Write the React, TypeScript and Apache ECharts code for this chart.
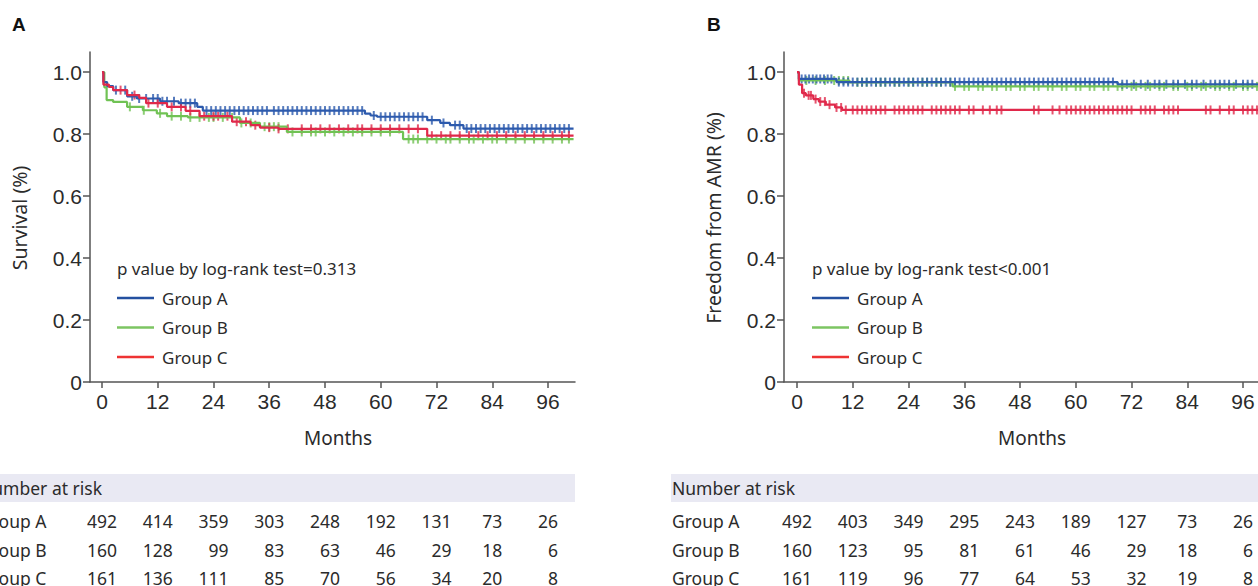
import React, { useEffect, useRef } from "react";
import * as echarts from "echarts";

// ---------- data ----------
const months = [0, 12, 24, 36, 48, 60, 72, 84, 96];
const yTicks = [0, 0.2, 0.4, 0.6, 0.8, 1.0];
const groupNames = ["Group A", "Group B", "Group C"];
const followUpEnd = 101.5;

// Panel A – overall survival (step times in months, survival after the step)
const aBlueT = [0, 0.3, 1.1, 2.4, 5.4, 7.5, 12.5, 16.5, 20.5, 21.7, 56.6, 57.8, 59.2, 70, 72.8, 74.9, 77.8];
const aBlueS = [1, 0.968, 0.955, 0.942, 0.922, 0.915, 0.906, 0.9, 0.888, 0.876, 0.866, 0.86, 0.856, 0.845, 0.836, 0.829, 0.818];
const aGreenT = [0, 0.5, 1, 2.4, 5.4, 8.8, 11.8, 14, 18.5, 29.7, 34, 39.8, 64.8];
const aGreenS = [1, 0.951, 0.91, 0.904, 0.888, 0.877, 0.867, 0.858, 0.854, 0.836, 0.824, 0.807, 0.784];
const aRedT = [0, 0.3, 1.5, 2.4, 5.4, 8, 9.5, 14, 18, 21, 28, 32, 34, 38, 70];
const aRedS = [1, 0.96, 0.952, 0.942, 0.926, 0.917, 0.9, 0.888, 0.875, 0.858, 0.84, 0.829, 0.821, 0.817, 0.795];

const aBlueCens = [3, 5, 6.5, 8, 9.5, 11, 12, 13, 14, 15.5, 17, 18, 19, 20, 22.5, 23.5, 24.5, 25.5, 26.5, 27.5, 28.5, 29.5, 30.5, 31.5, 32.5, 33.5, 34.5, 35.5, 37, 38, 39, 40, 41, 42, 43, 44, 45, 46, 47, 48, 49, 50, 51, 52, 53, 54, 55, 56, 58.5, 60, 61, 62, 63, 64, 65, 66, 67, 68, 69, 71, 73.5, 76, 77, 78.5, 79.5, 80.5, 81.5, 82.5, 83.5, 84.5, 85.5, 86.5, 87.5, 88.5, 89.5, 90.5, 91.5, 92.5, 93.5, 94.5, 95.5, 96.5, 97.5, 98.5, 99.5, 100.5];
const aGreenCens = [6, 9, 12.5, 15, 17, 19, 21, 23, 24, 26, 28, 30, 32, 35, 36, 37, 38, 41, 43, 45, 46, 48, 50, 52, 54, 56, 58, 60, 62, 66, 67, 68, 70, 72, 74, 75, 77, 79, 80, 82, 84, 85, 87, 89, 91, 93, 95, 97, 99, 100.5];
const aRedCens = [4, 7, 10, 12, 15, 17, 19, 22, 24, 25, 27, 29, 31, 33, 36, 38, 40, 43, 45, 47, 49, 51, 53, 55, 56, 58, 60, 62, 64, 66, 68, 71, 73, 75, 77, 79, 81, 83, 85, 87, 89, 91, 93, 95, 97, 99, 100.5];

// Panel B – freedom from AMR
const bBlueT = [0, 0.4, 8.5, 69];
const bBlueS = [1, 0.978, 0.968, 0.961];
const bGreenT = [0, 0.4, 11.3, 33.5];
const bGreenS = [1, 0.973, 0.967, 0.954];
const bRedT = [0, 0.4, 1.1, 1.9, 3.5, 4.7, 6.2, 8.2, 9.7];
const bRedS = [1, 0.96, 0.932, 0.925, 0.913, 0.905, 0.895, 0.886, 0.878];

const bBlueCens = [1, 1.8, 2.6, 3.4, 4.2, 5, 5.8, 6.6, 7.4, 9, 10, 11, 12, 13, 14, 15, 16, 17, 18, 19, 20, 21, 22, 23, 24, 25, 26, 27, 28, 29, 30, 31, 32, 33, 34, 35, 36, 37, 38, 39, 40, 41, 42, 43, 44, 45, 46, 47, 48, 49, 50, 51, 52, 53, 54, 55, 56, 57, 58, 59, 60, 61, 62, 63, 64, 65, 66, 67, 68, 70, 71, 72.5, 74, 75.5, 77, 78, 79.5, 81, 82, 83.5, 85, 86, 87.5, 89, 90, 91, 92, 93, 94.5, 96, 97, 98, 99.5, 100.5];
const bGreenCens = [2, 4, 6, 8, 9, 10, 11, 13, 14, 15, 17, 18, 19, 21, 22, 24, 25, 27, 28, 30, 31, 33, 34, 36, 37, 39, 40, 42, 43, 45, 46, 48, 49, 51, 52, 54, 55, 57, 58, 60, 61, 63, 64, 66, 67, 69, 70, 72, 73, 75, 76, 78, 79, 81, 82, 84, 85, 87, 88, 90, 91, 93, 94, 96, 97, 99];
const bRedCens = [1.5, 2.5, 3, 4, 5, 6, 7, 8.5, 9.5, 10.5, 12, 13, 14, 15, 16, 17, 18, 19, 21, 22, 23, 24, 25, 26, 27, 29, 30, 31, 32, 33, 34, 35, 37, 38, 40, 41.5, 43, 44, 51, 52, 55, 56.5, 58, 59, 60, 61, 62, 63, 64, 65, 66, 67, 68, 69, 70, 71, 72, 74, 75, 76, 77, 79, 80, 81, 82, 88, 89, 91, 93, 94, 96, 97, 98, 99];

// Number at risk
const riskA_A = [492, 414, 359, 303, 248, 192, 131, 73, 26];
const riskA_B = [160, 128, 99, 83, 63, 46, 29, 18, 6];
const riskA_C = [161, 136, 111, 85, 70, 56, 34, 20, 8];
const riskB_A = [492, 403, 349, 295, 243, 189, 127, 73, 26];
const riskB_B = [160, 123, 95, 81, 61, 46, 29, 18, 6];
const riskB_C = [161, 119, 96, 77, 64, 53, 32, 19, 8];

// ---------- styling ----------
const BLUE = "#2c5aad";
const GREEN = "#70c254";
const RED = "#e0284a";
const LEG_BLUE = "#2450a0";
const LEG_GREEN = "#7cc562";
const LEG_RED = "#ee3333";
const TXT = "#2b2b2b";
const AXIS = "#555555";
const TICK_FONT = '"Liberation Sans", Arial, sans-serif';
const TEXT_FONT = '"Noto Sans", sans-serif';

function valueAt(ts: number[], vs: number[], t: number) {
  let v = vs[0];
  for (let i = 0; i < ts.length; i++) if (ts[i] <= t) v = vs[i];
  return v;
}

function curveSeries(ts: number[], vs: number[], color: string, idx: number) {
  const data = ts.map((t, i) => [t, vs[i]]);
  data.push([followUpEnd, vs[vs.length - 1]]);
  return {
    type: "line",
    xAxisIndex: idx,
    yAxisIndex: idx,
    step: "end",
    showSymbol: false,
    symbol: "none",
    data,
    lineStyle: { color, width: 2.2 },
    silent: true,
  };
}

function censSeries(ts: number[], vs: number[], cens: number[], color: string, idx: number) {
  return {
    type: "scatter",
    xAxisIndex: idx,
    yAxisIndex: idx,
    symbol: "rect",
    symbolSize: [2, 9],
    data: cens.map((t) => [t, valueAt(ts, vs, t)]),
    itemStyle: { color },
    silent: true,
  };
}

function xAxisCfg(idx: number, min: number, max: number) {
  return {
    type: "value",
    gridIndex: idx,
    min,
    max,
    splitLine: { show: false },
    axisLine: { show: true, onZero: false, lineStyle: { color: AXIS, width: 1.5 } },
    axisTick: { show: true, length: 6, customValues: months, lineStyle: { color: AXIS, width: 1.5 } },
    axisLabel: {
      customValues: months,
      color: TXT,
      fontFamily: TICK_FONT,
      fontSize: 21,
      margin: 9,
    },
  };
}

function yAxisCfg(idx: number) {
  return {
    type: "value",
    gridIndex: idx,
    min: 0,
    max: 1.065,
    splitLine: { show: false },
    axisLine: { show: true, onZero: false, lineStyle: { color: AXIS, width: 1.5 } },
    axisTick: { show: true, length: 7, customValues: yTicks, lineStyle: { color: AXIS, width: 1.5 } },
    axisLabel: {
      customValues: yTicks,
      color: TXT,
      fontFamily: TICK_FONT,
      fontSize: 21,
      margin: 8,
      formatter: (v: number) => (v === 0 ? "0" : v.toFixed(1)),
    },
  };
}

export default function App() {
  const ref = useRef<HTMLDivElement>(null);
  useEffect(() => {
    if (!ref.current) return;
    const chart = echarts.init(ref.current, undefined, { renderer: "svg" });
    chart.setOption({
      animation: false,
      backgroundColor: "#ffffff",
      grid: [
        { left: 90, top: 52, width: 485, height: 330 },
        { left: 784, top: 52, width: 485, height: 330 },
      ],
      xAxis: [xAxisCfg(0, -2.58, 101.81), xAxisCfg(1, -2.8, 101.59)],
      yAxis: [yAxisCfg(0), yAxisCfg(1)],
      series: [
        curveSeries(aGreenT, aGreenS, GREEN, 0),
        censSeries(aGreenT, aGreenS, aGreenCens, GREEN, 0),
        curveSeries(aBlueT, aBlueS, BLUE, 0),
        censSeries(aBlueT, aBlueS, aBlueCens, BLUE, 0),
        curveSeries(aRedT, aRedS, RED, 0),
        censSeries(aRedT, aRedS, aRedCens, RED, 0),
        curveSeries(bGreenT, bGreenS, GREEN, 1),
        censSeries(bGreenT, bGreenS, bGreenCens, GREEN, 1),
        curveSeries(bBlueT, bBlueS, BLUE, 1),
        censSeries(bBlueT, bBlueS, bBlueCens, BLUE, 1),
        curveSeries(bRedT, bRedS, RED, 1),
        censSeries(bRedT, bRedS, bRedCens, RED, 1),
      ],
    });

    // measure text widths for right-aligned risk table columns
    const cv = document.createElement("canvas");
    const ctx = cv.getContext("2d")!;
    const tableFontSize = 17.5;
    ctx.font = `${tableFontSize}px "Noto Sans"`;

    const graphics: any[] = [];
    const panels = [
      {
        idx: 0, title: "A", titleX: 12, yName: "Survival (%)", yNameX: 19, monthsX: 338,
        p: "p value by log-rank test=0.313", legX: 117, bandX0: -40,
        risks: [riskA_A, riskA_B, riskA_C], labelX: -21,
      },
      {
        idx: 1, title: "B", titleX: 707, yName: "Freedom from AMR (%)", yNameX: 713, monthsX: 1032,
        p: "p value by log-rank test<0.001", legX: 812, bandX0: 671,
        risks: [riskB_A, riskB_B, riskB_C], labelX: 672,
      },
    ];
    const legColors = [LEG_BLUE, LEG_GREEN, LEG_RED];
    const rowY = [521, 550, 578];

    panels.forEach((pn) => {
      graphics.push({
        type: "text", x: pn.titleX, y: 24,
        style: { text: pn.title, font: `bold 19px ${TICK_FONT}`, fill: "#111", verticalAlign: "middle" },
      });
      graphics.push({
        type: "text", x: pn.yNameX, y: 218, rotation: Math.PI / 2,
        style: { text: pn.yName, font: `19.5px ${TEXT_FONT}`, fill: TXT, align: "center", verticalAlign: "middle" },
      });
      graphics.push({
        type: "text", x: pn.monthsX, y: 438,
        style: { text: "Months", font: `19px ${TEXT_FONT}`, fill: TXT, align: "center", verticalAlign: "middle" },
      });
      // legend
      graphics.push({
        type: "text", x: pn.legX, y: 268,
        style: { text: pn.p, font: `17px ${TEXT_FONT}`, fill: TXT, verticalAlign: "middle" },
      });
      groupNames.forEach((g, i) => {
        const y = 298 + i * 29.5;
        graphics.push({
          type: "line",
          shape: { x1: pn.legX, y1: y, x2: pn.legX + 37, y2: y },
          style: { stroke: legColors[i], lineWidth: 2.5 },
        });
        graphics.push({
          type: "text", x: pn.legX + 45, y,
          style: { text: g, font: `17px ${TEXT_FONT}`, fill: TXT, verticalAlign: "middle" },
        });
      });
      // risk table
      graphics.push({
        type: "rect",
        shape: { x: pn.bandX0, y: 474, width: pn.idx === 0 ? 575 - pn.bandX0 : 1300 - pn.bandX0, height: 28 },
        style: { fill: "#e9e9f3" },
      });
      graphics.push({
        type: "text", x: pn.labelX, y: 488,
        style: { text: "Number at risk", font: `${tableFontSize}px ${TEXT_FONT}`, fill: TXT, verticalAlign: "middle" },
      });
      groupNames.forEach((g, r) => {
        graphics.push({
          type: "text", x: pn.labelX, y: rowY[r],
          style: { text: g, font: `${tableFontSize}px ${TEXT_FONT}`, fill: TXT, verticalAlign: "middle" },
        });
      });
      months.forEach((m, c) => {
        const px = chart.convertToPixel({ xAxisIndex: pn.idx }, m) as number;
        const w = ctx.measureText(String(pn.risks[0][c])).width;
        const right = px + w / 2;
        pn.risks.forEach((arr, r) => {
          graphics.push({
            type: "text", x: right, y: rowY[r],
            style: { text: String(arr[c]), font: `${tableFontSize}px ${TEXT_FONT}`, fill: TXT, align: "right", verticalAlign: "middle" },
          });
        });
      });
    });

    chart.setOption({ graphic: graphics });
    return () => chart.dispose();
  }, []);
  return (
    <div
      ref={ref}
      style={{ position: "fixed", left: 0, top: 0, width: 1300, height: 586, background: "#fff" }}
    />
  );
}
